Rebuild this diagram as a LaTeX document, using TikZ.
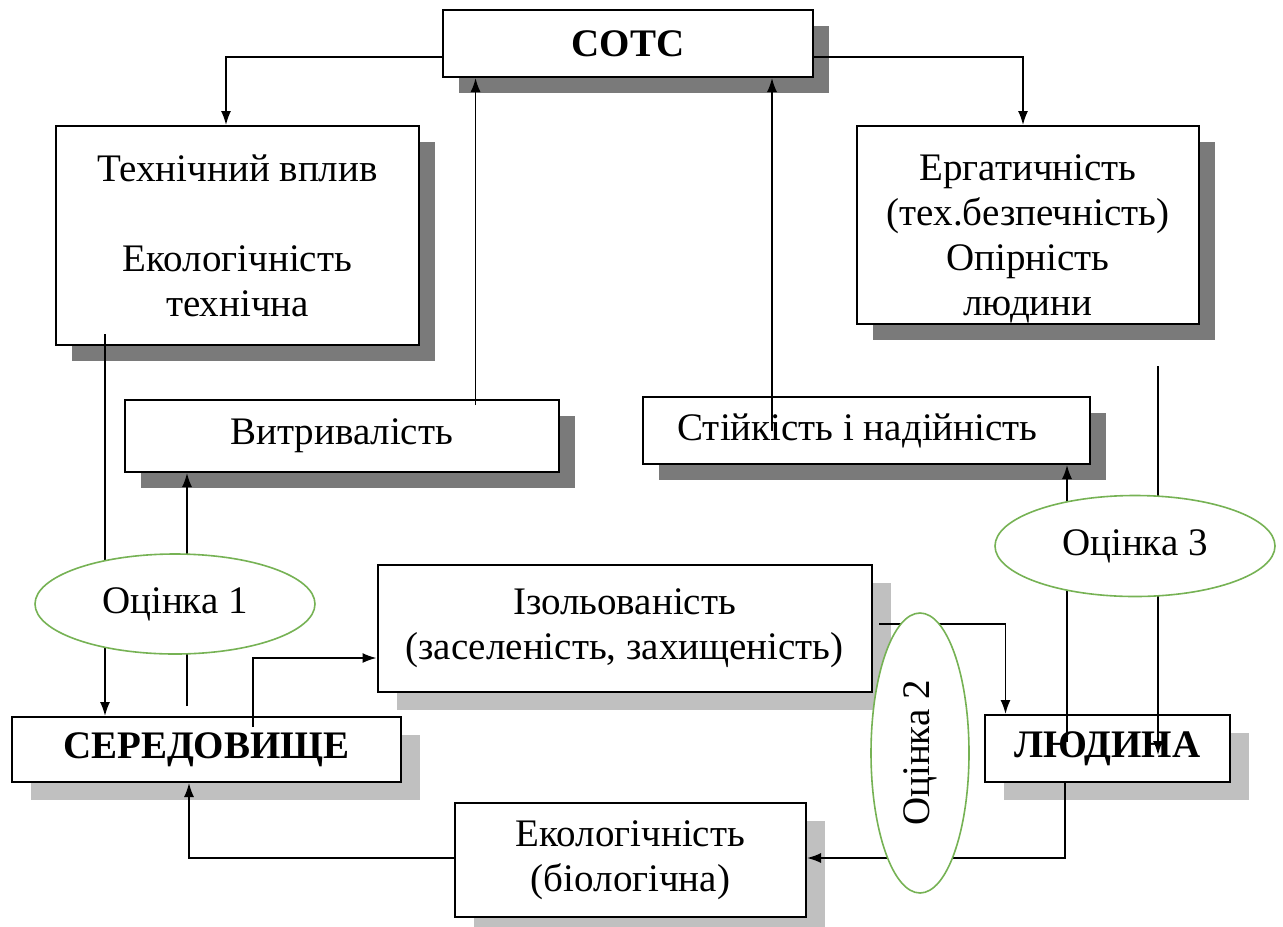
\documentclass[tikz,border=0pt]{standalone}
\usepackage{fontspec}
\setmainfont{Liberation Serif}
\usetikzlibrary{shapes.geometric,shadows,arrows.meta}
\definecolor{ovalgreen}{RGB}{118,178,84}
\definecolor{darkshade}{RGB}{122,122,122}
\definecolor{lightshade}{RGB}{192,192,192}
\begin{document}
\begin{tikzpicture}[x=0.5pt, y=-0.5pt,
  every node/.style={font=\fontsize{19.5}{22.5}\selectfont, inner sep=0pt, align=center},
  box/.style={draw, line width=1pt, fill=white, drop shadow={shadow xshift=8pt, shadow yshift=-8pt, fill=darkshade, opacity=1}},
  lightbox/.style={draw, line width=1pt, fill=white, drop shadow={shadow xshift=9.5pt, shadow yshift=-9pt, fill=lightshade, opacity=1}},
  oval/.style={ellipse, draw=ovalgreen, line width=0.8pt, fill=white},
  conn/.style={line width=0.8pt, -{Latex[length=7pt,width=5pt]}},
  bigtext/.style={font=\fontsize{19.5}{22.5}\selectfont\bfseries}]
\useasboundingbox (0,0) rectangle (1283,926);
\node[box, bigtext, minimum width=185pt, minimum height=33.5pt] (sots) at (628,43.5) {СОТС};
\node[box, minimum width=181.5pt, minimum height=109.5pt] (tech) at (237.5,235.5) {Технічний вплив\\[22.5pt]Екологічність\\технічна};
\node[box, minimum width=171pt, minimum height=99pt] (erg) at (1028,225) {\rule{0pt}{27pt}Ергатичність\\(тех.безпечність)\\Опірність\\людини};
\node[box, minimum width=217.25pt, minimum height=36pt] (vytr) at (341.75,436) {Витривалість};
\node[box, minimum width=223.5pt, minimum height=33.5pt] (stiik) at (866.5,430.5) {\kern-9pt Стійкість і надійність};
\node[lightbox, minimum width=247pt, minimum height=63.5pt] (izol) at (624.5,628.5) {Ізольованість\\(заселеність, захищеність)};
\node[lightbox, bigtext, minimum width=194.7pt, minimum height=32.5pt] (sered) at (206.3,749.5) {СЕРЕДОВИЩЕ};
\node[lightbox, bigtext, minimum width=122.5pt, minimum height=33.5pt] (lyud) at (1107.5,748.5) {ЛЮДИНА};
\node[lightbox, minimum width=175.5pt, minimum height=57pt] (ekol) at (630.5,860) {Екологічність\\(біологічна)};
\draw[conn] ([yshift=-6.75pt]sots.west) -| ([xshift=-5.75pt]tech.north);
\draw[conn] ([yshift=-6.75pt]sots.east) -| ([xshift=-2.5pt]erg.north);
\draw[conn] ([xshift=66.9pt,yshift=-3pt]vytr.north) -- ([xshift=66.9pt]vytr.north |- sots.south);
\draw[conn] ([xshift=-47.25pt]stiik.center) -- ([xshift=-47.25pt]stiik.center |- sots.south);
\draw[conn] ([xshift=-66.25pt,yshift=6pt]tech.south) -- ([xshift=-66.25pt]tech.south |- sered.north);
\draw[conn] ([xshift=-9.65pt,yshift=5pt]sered.north) -- ([xshift=-9.65pt]sered.north |- vytr.south);
\draw[conn] ([xshift=23.35pt,yshift=-5.5pt]sered.north) |- ([yshift=-14.75pt]izol.west);
\draw[conn] ([xshift=3.25pt,yshift=2.25pt]izol.east) -| ([xshift=-51pt]lyud.north);
\draw[conn] ([xshift=-20.25pt,yshift=-14pt]lyud.north) -- ([xshift=-20.25pt]lyud.north |- stiik.south);
\draw[conn] ([xshift=65pt,yshift=-20.5pt]erg.south) -- ([xshift=65pt,yshift=-20.5pt]erg.south |- lyud.north);
\draw[conn] ([xshift=-21.25pt]lyud.south) |- ([yshift=1pt]ekol.east);
\draw[conn] ([yshift=1pt]ekol.west) -| ([xshift=-8.65pt]sered.south);
\node[oval, minimum width=140pt, minimum height=50pt] (ots1) at (175,604) {Оцінка 1};
\node[oval, minimum width=140pt, minimum height=49pt, rotate=90] (ots2) at (920,753) {Оцінка 2};
\node[oval, minimum width=140pt, minimum height=50.5pt] (ots3) at (1135,546) {Оцінка 3};
\end{tikzpicture}
\end{document}
